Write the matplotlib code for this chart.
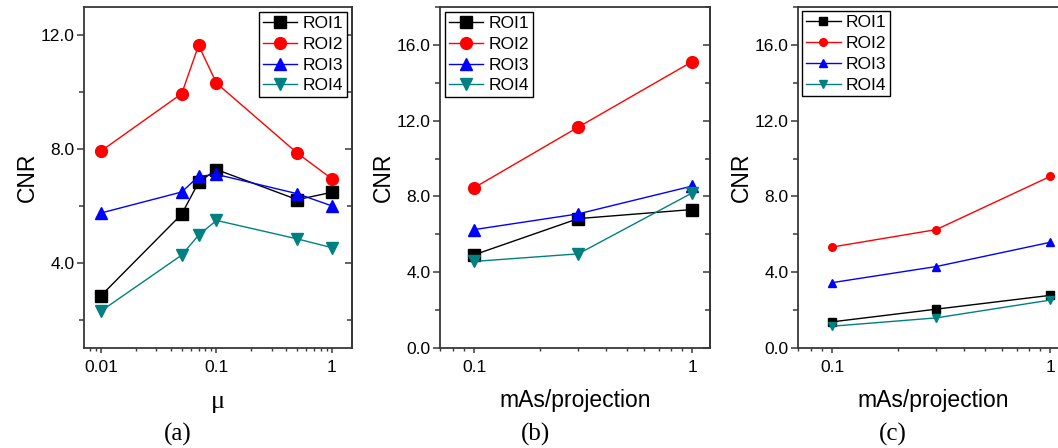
import matplotlib
matplotlib.use("Agg")
import matplotlib.pyplot as plt
from matplotlib.ticker import LogLocator, FixedLocator, FuncFormatter, MultipleLocator

plt.rcParams["font.family"] = ["Liberation Sans", "DejaVu Sans"]

# panel (a): CNR vs regularisation weight mu
mu = [0.01, 0.05, 0.07, 0.1, 0.5, 1.0]
a_roi1 = [2.84, 5.71, 6.83, 7.28, 6.22, 6.48]
a_roi2 = [7.93, 9.95, 11.65, 10.32, 7.86, 6.95]
a_roi3 = [5.75, 6.49, 7.04, 7.11, 6.43, 6.00]
a_roi4 = [2.30, 4.27, 4.97, 5.49, 4.84, 4.53]

# panels (b), (c): CNR vs mAs/projection
mas = [0.1, 0.3, 1.0]
b_roi1 = [4.92, 6.83, 7.31]
b_roi2 = [8.46, 11.66, 15.12]
b_roi3 = [6.25, 7.08, 8.55]
b_roi4 = [4.57, 4.97, 8.19]

c_roi1 = [1.38, 2.05, 2.78]
c_roi2 = [5.33, 6.25, 9.06]
c_roi3 = [3.45, 4.30, 5.58]
c_roi4 = [1.15, 1.59, 2.53]

labels = ["ROI1", "ROI2", "ROI3", "ROI4"]
colors = ["black", "#ff0000", "#0000ff", "#008080"]
markers = ["s", "o", "^", "v"]

SPINE = "#383838"


def style_axes(ax, ymajor, yminor):
    for side in ("left", "bottom", "right", "top"):
        ax.spines[side].set_linewidth(1.3)
        ax.spines[side].set_color(SPINE)
    ax.set_xscale("log")
    ax.yaxis.set_major_locator(MultipleLocator(ymajor))
    ax.yaxis.set_minor_locator(MultipleLocator(yminor))
    ax.yaxis.set_major_formatter(FuncFormatter(lambda v, p: f"{v:.1f}"))
    ax.xaxis.set_major_formatter(FuncFormatter(lambda v, p: f"{v:g}"))
    ax.xaxis.set_minor_locator(LogLocator(base=10, subs=range(2, 10)))
    ax.xaxis.set_minor_formatter(FuncFormatter(lambda v, p: ""))
    ax.tick_params(axis="y", which="major", direction="out", length=5,
                   width=1.1, color=SPINE, labelsize=12.5, pad=2)
    ax.tick_params(axis="y", which="minor", direction="out", length=3.5,
                   width=1.1, color=SPINE)
    ax.tick_params(axis="x", which="major", direction="out", length=3.5,
                   width=1.1, color=SPINE, labelsize=12.5, pad=5)
    ax.tick_params(axis="x", which="minor", direction="out", length=2.5,
                   width=1.0, color=SPINE)
    ax.set_ylabel("CNR", fontsize=16.5, labelpad=1)
    # mirrored ticks on the right side pointing inward
    sec = ax.secondary_yaxis("right")
    sec.yaxis.set_major_locator(MultipleLocator(ymajor))
    sec.yaxis.set_minor_locator(MultipleLocator(yminor))
    sec.tick_params(which="major", direction="in", length=5, width=1.1,
                    color=SPINE, labelright=False)
    sec.tick_params(which="minor", direction="in", length=3.5, width=1.1,
                    color=SPINE, labelright=False)
    sec.spines["right"].set_linewidth(1.3)
    sec.spines["right"].set_color(SPINE)


def draw_series(ax, x, series, msize):
    for ys, lab, col, mk in zip(series, labels, colors, markers):
        ax.plot(x, ys, color=col, marker=mk, markersize=msize, linewidth=1.0,
                markeredgecolor=col, label=lab, clip_on=False, zorder=3)


def add_legend(ax, loc, pad):
    leg = ax.legend(loc=loc, fontsize=12.5, fancybox=False,
                    edgecolor="black", framealpha=1, borderpad=0.2,
                    labelspacing=0.33, handlelength=2.0, handletextpad=0.3,
                    borderaxespad=pad)
    leg.get_frame().set_linewidth(1.0)
    return leg


fig = plt.figure(figsize=(10.58, 4.48), dpi=100)
fig.patch.set_facecolor("white")

bottom = 100 / 448
height = 341 / 448
ax_a = fig.add_axes([84 / 1058, bottom, 268 / 1058, height])
ax_b = fig.add_axes([440 / 1058, bottom, 270 / 1058, height])
ax_c = fig.add_axes([798 / 1058, bottom, 270 / 1058, height])

# (a)
draw_series(ax_a, mu, [a_roi1, a_roi2, a_roi3, a_roi4], 8.5)
style_axes(ax_a, 4, 2)
ax_a.set_xlim(0.00713, 1.49)
ax_a.set_ylim(1.0, 13.0)
ax_a.xaxis.set_major_locator(FixedLocator([0.01, 0.1, 1]))
ax_a.set_xlabel("\u03bc", fontsize=19, family=["Liberation Serif", "DejaVu Serif"],
                labelpad=12)
add_legend(ax_a, "upper right", 0.3)

# (b)
draw_series(ax_b, mas, [b_roi1, b_roi2, b_roi3, b_roi4], 8.5)
style_axes(ax_b, 4, 2)
ax_b.set_xlim(0.0697, 1.205)
ax_b.set_ylim(0, 18)
ax_b.xaxis.set_major_locator(FixedLocator([0.1, 1]))
ax_b.set_xlabel("mAs/projection", fontsize=16.5, labelpad=10)
add_legend(ax_b, "upper left", 0.3)

# (c)
draw_series(ax_c, mas, [c_roi1, c_roi2, c_roi3, c_roi4], 5.5)
style_axes(ax_c, 4, 2)
ax_c.set_xlim(0.0697, 1.205)
ax_c.set_ylim(0, 18)
ax_c.xaxis.set_major_locator(FixedLocator([0.1, 1]))
ax_c.set_xlabel("mAs/projection", fontsize=16.5, labelpad=10)
add_legend(ax_c, "upper left", 0.25)

serif = ["Liberation Serif", "DejaVu Serif"]
for xc, tag in ((178, "(a)"), (535, "(b)"), (893, "(c)")):
    fig.text(xc / 1058, 1 - 434 / 448, tag, fontsize=18, family=serif,
             ha="center", va="center")

fig.savefig("out.png", dpi=100)
